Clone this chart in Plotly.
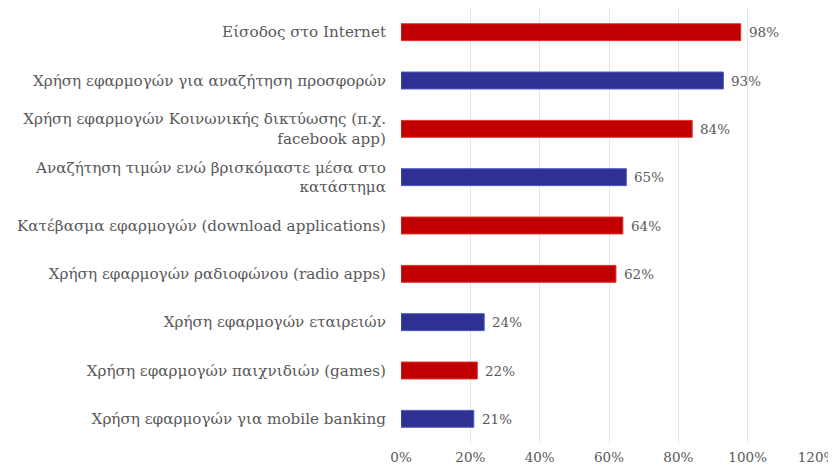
import plotly.graph_objects as go

categories = [
    "Είσοδος στο Internet",
    "Χρήση εφαρμογών για αναζήτηση προσφορών",
    "Χρήση εφαρμογών Κοινωνικής δικτύωσης (π.χ.<br>facebook app)",
    "Αναζήτηση τιμών ενώ βρισκόμαστε μέσα στο<br>κατάστημα",
    "Κατέβασμα εφαρμογών (download applications)",
    "Χρήση εφαρμογών ραδιοφώνου (radio apps)",
    "Χρήση εφαρμογών εταιρειών",
    "Χρήση εφαρμογών παιχνιδιών (games)",
    "Χρήση εφαρμογών για mobile banking",
]
values = [98, 93, 84, 65, 64, 62, 24, 22, 21]
groups = ["r", "b", "r", "b", "r", "r", "b", "r", "b"]
x_ticks = [0, 20, 40, 60, 80, 100, 120]
x_tick_labels = ["0%", "20%", "40%", "60%", "80%", "100%", "120%"]

palette = {"r": "#C00000", "b": "#2E3192"}
edge = {"r": "#E03030", "b": "#4A5AC8"}
font_family = "DejaVu Serif"
gray = "#595959"

fig = go.Figure()
fig.add_trace(go.Bar(
    x=values,
    y=categories,
    orientation="h",
    marker=dict(color=[palette[g] for g in groups],
                line=dict(color=[edge[g] for g in groups], width=1)),
    width=0.35,
    hoverinfo="skip",
))

for c, v in zip(categories, values):
    fig.add_annotation(x=v, y=c, text=f"{v}%", showarrow=False,
                       xanchor="left", xshift=6,
                       font=dict(family=font_family, size=13.5, color=gray))

fig.update_layout(
    width=836, height=467,
    margin=dict(l=393, r=27, t=0, b=32, autoexpand=False),
    paper_bgcolor="white", plot_bgcolor="white",
    showlegend=False,
    font=dict(family=font_family, size=13, color=gray),
)
fig.update_xaxes(
    range=[0, 120], tickvals=x_ticks, ticktext=x_tick_labels,
    showgrid=True, gridcolor="#E6E6E6", gridwidth=1,
    zeroline=False, showline=False, ticks="", ticklabelstandoff=4,
    tickfont=dict(family=font_family, size=13.5, color=gray),
    automargin=False, fixedrange=True,
)
fig.update_yaxes(
    autorange="reversed", showgrid=False, zeroline=False, showline=False,
    ticks="", ticklabelstandoff=14,
    tickfont=dict(family=font_family, size=15.2, color=gray),
    automargin=False, fixedrange=True,
)

fig.write_html("out.html", config={"displayModeBar": False})
